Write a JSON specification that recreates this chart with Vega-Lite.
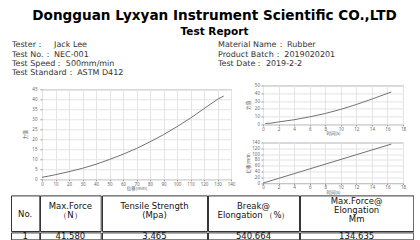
{
  "$schema": "https://vega.github.io/schema/vega-lite/v6.json",
  "background": "white",
  "padding": {"left": 10, "top": 8.4, "right": 0, "bottom": 0},
  "title": {
    "text": "Dongguan Lyxyan Instrument Scientific CO.,LTD",
    "subtitle": "Test Report",
    "anchor": "middle",
    "frame": "bounds",
    "dx": 2.35,
    "font": "DejaVu Sans",
    "fontSize": 13.6,
    "fontWeight": "bold",
    "color": "#000000",
    "subtitleFont": "DejaVu Sans",
    "subtitleFontSize": 10.5,
    "subtitleFontWeight": "bold",
    "subtitleColor": "#000000",
    "subtitlePadding": 4.6,
    "offset": 4.1
  },
  "datasets": {
    "info": [
      {"col": "A", "row": 1, "text": "Tester：\u00a0\u00a0\u00a0\u00a0Jack Lee"},
      {"col": "A", "row": 2, "text": "Test No.：\u00a0NEC-001"},
      {"col": "A", "row": 3, "text": "Test Speed：\u00a0500mm/min"},
      {"col": "A", "row": 4, "text": "Test Standard：\u00a0ASTM D412"},
      {"col": "B", "row": 1, "text": "Material Name：\u00a0Rubber"},
      {"col": "B", "row": 2, "text": "Product Batch：\u00a02019020201"},
      {"col": "B", "row": 3, "text": "Test Date：\u00a02019-2-2"}
    ],
    "curve": [
      {"disp": 0, "force": 1.0},
      {"disp": 5, "force": 1.6},
      {"disp": 10, "force": 2.3},
      {"disp": 20, "force": 3.8},
      {"disp": 30, "force": 5.5},
      {"disp": 40, "force": 7.5},
      {"disp": 50, "force": 9.9},
      {"disp": 60, "force": 12.5},
      {"disp": 70, "force": 15.4},
      {"disp": 80, "force": 18.7},
      {"disp": 90, "force": 22.3},
      {"disp": 100, "force": 26.3},
      {"disp": 110, "force": 30.6},
      {"disp": 120, "force": 35.3},
      {"disp": 130, "force": 40.0},
      {"disp": 134.6, "force": 41.6}
    ],
    "tf": [
      {"t": 0.3, "f": 1.2},
      {"t": 1, "f": 1.6},
      {"t": 2, "f": 3.2},
      {"t": 4, "f": 6.0},
      {"t": 6, "f": 9.7},
      {"t": 8, "f": 14.0},
      {"t": 10, "f": 19.3},
      {"t": 12, "f": 25.5},
      {"t": 14, "f": 32.5},
      {"t": 16.5, "f": 41.6}
    ],
    "td": [
      {"t": 0, "d": 0},
      {"t": 4, "d": 32.6},
      {"t": 8, "d": 65.3},
      {"t": 12, "d": 97.9},
      {"t": 16.5, "d": 134.6}
    ],
    "table": [
      {"col": "c1", "header": "No.", "value": "1"},
      {"col": "c2", "header": "Max.Force\n（N）", "value": "41.580"},
      {"col": "c3", "header": "Tensile Strength\n(Mpa)", "value": "3.465"},
      {"col": "c4", "header": "Break@\nElongation （%）", "value": "540.664"},
      {"col": "c5", "header": "Max.Force@\nElongation\nMm", "value": "134.635"}
    ]
  },
  "spacing": 0,
  "vconcat": [
    {
      "width": 206,
      "height": 39.3,
      "view": {"stroke": null},
      "data": {"name": "info"},
      "mark": {"type": "text", "align": "left", "baseline": "middle", "dx": 1, "font": "DejaVu Sans", "fontSize": 8, "color": "#333333"},
      "encoding": {
        "x": {"field": "col", "type": "nominal", "scale": {"type": "point", "padding": 0}, "axis": null},
        "y": {"field": "row", "type": "ordinal", "scale": {"type": "point", "padding": 0.605, "align": 0.354}, "axis": null},
        "text": {"field": "text"}
      }
    },
    {
      "hconcat": [
        {
          "width": 6.5,
          "height": 1,
          "view": {"stroke": null},
          "data": {"values": [{}]},
          "mark": {"type": "text", "text": ""}
        },
        {
          "width": 189,
          "height": 90,
          "data": {"name": "curve"},
          "mark": {"type": "line", "color": "#707070", "strokeWidth": 1},
          "encoding": {
            "x": {"field": "disp", "type": "quantitative", "scale": {"domain": [0, 140], "nice": false},
                  "axis": {"title": "位移(mm)", "labelFlush": false, "values": [0, 10, 20, 30, 40, 50, 60, 70, 80, 90, 100, 110, 120, 130, 140]}},
            "y": {"field": "force", "type": "quantitative", "scale": {"domain": [0, 45], "nice": false},
                  "axis": {"title": "力值", "values": [0, 5, 10, 15, 20, 25, 30, 35, 40, 45], "labelPadding": 3, "titlePadding": 4}}
          }
        },
        {
          "width": 0.35,
          "height": 1,
          "view": {"stroke": null},
          "data": {"values": [{}]},
          "mark": {"type": "text", "text": ""}
        },
        {
          "vconcat": [
            {
              "width": 140,
              "height": 39,
              "data": {"name": "tf"},
              "mark": {"type": "line", "color": "#707070", "strokeWidth": 1},
              "encoding": {
                "x": {"field": "t", "type": "quantitative", "scale": {"domain": [0, 18], "nice": false},
                      "axis": {"title": "时间(s)", "labelFlush": false, "values": [0, 2, 4, 6, 8, 10, 12, 14, 16, 18]}},
                "y": {"field": "f", "type": "quantitative", "scale": {"domain": [0, 50], "nice": false},
                      "axis": {"title": "力值", "values": [0, 10, 20, 30, 40, 50], "titlePadding": 3.6}}
              }
            },
            {
              "width": 140,
              "height": 40.6,
              "data": {"name": "td"},
              "mark": {"type": "line", "color": "#707070", "strokeWidth": 1},
              "encoding": {
                "x": {"field": "t", "type": "quantitative", "scale": {"domain": [0, 18], "nice": false},
                      "axis": {"title": "时间(s)", "labelFlush": false, "values": [0, 2, 4, 6, 8, 10, 12, 14, 16, 18]}},
                "y": {"field": "d", "type": "quantitative", "scale": {"domain": [0, 140], "nice": false},
                      "axis": {"title": "位移(mm)", "values": [0, 20, 40, 60, 80, 100, 120, 140], "titlePadding": 1}}
              }
            }
          ],
          "spacing": 2.1
        }
      ],
      "spacing": 4,
      "center": true
    },
    {
      "vconcat": [
        {
          "hconcat": [
            {"width": 28.3, "height": 35.6, "view": {"stroke": "#333333"}, "data": {"name": "table"},
             "transform": [{"filter": "datum.col === 'c1'"}],
             "mark": {"type": "text", "font": "DejaVu Sans", "fontSize": 8.5, "color": "#111111", "lineBreak": "\n", "lineHeight": 9.3, "dy": 0.5},
             "encoding": {"text": {"field": "header"}}},
            {"width": 60.7, "height": 35.6, "view": {"stroke": "#333333"}, "data": {"name": "table"},
             "transform": [{"filter": "datum.col === 'c2'"}],
             "mark": {"type": "text", "font": "DejaVu Sans", "fontSize": 8.5, "color": "#111111", "lineBreak": "\n", "lineHeight": 9.3, "dy": -7.3},
             "encoding": {"text": {"field": "header"}}},
            {"width": 105, "height": 35.6, "view": {"stroke": "#333333"}, "data": {"name": "table"},
             "transform": [{"filter": "datum.col === 'c3'"}],
             "mark": {"type": "text", "font": "DejaVu Sans", "fontSize": 8.5, "color": "#111111", "lineBreak": "\n", "lineHeight": 9.3, "dy": -7.3},
             "encoding": {"text": {"field": "header"}}},
            {"width": 91, "height": 35.6, "view": {"stroke": "#333333"}, "data": {"name": "table"},
             "transform": [{"filter": "datum.col === 'c4'"}],
             "mark": {"type": "text", "font": "DejaVu Sans", "fontSize": 8.5, "color": "#111111", "lineBreak": "\n", "lineHeight": 9.3, "dy": -7.3},
             "encoding": {"text": {"field": "header"}}},
            {"width": 113.3, "height": 35.6, "view": {"stroke": "#333333"}, "data": {"name": "table"},
             "transform": [{"filter": "datum.col === 'c5'"}],
             "mark": {"type": "text", "font": "DejaVu Sans", "fontSize": 8.5, "color": "#111111", "lineBreak": "\n", "lineHeight": 9.3, "dy": -12.3},
             "encoding": {"text": {"field": "header"}}}
          ],
          "spacing": -2
        },
        {
          "hconcat": [
            {"width": 28.3, "height": 7, "view": {"stroke": "#333333"}, "data": {"name": "table"},
             "transform": [{"filter": "datum.col === 'c1'"}],
             "mark": {"type": "text", "font": "DejaVu Sans", "fontSize": 8.5, "color": "#111111"},
             "encoding": {"text": {"field": "value"}}},
            {"width": 60.7, "height": 7, "view": {"stroke": "#333333"}, "data": {"name": "table"},
             "transform": [{"filter": "datum.col === 'c2'"}],
             "mark": {"type": "text", "font": "DejaVu Sans", "fontSize": 8.5, "color": "#111111"},
             "encoding": {"text": {"field": "value"}}},
            {"width": 105, "height": 7, "view": {"stroke": "#333333"}, "data": {"name": "table"},
             "transform": [{"filter": "datum.col === 'c3'"}],
             "mark": {"type": "text", "font": "DejaVu Sans", "fontSize": 8.5, "color": "#111111"},
             "encoding": {"text": {"field": "value"}}},
            {"width": 91, "height": 7, "view": {"stroke": "#333333"}, "data": {"name": "table"},
             "transform": [{"filter": "datum.col === 'c4'"}],
             "mark": {"type": "text", "font": "DejaVu Sans", "fontSize": 8.5, "color": "#111111"},
             "encoding": {"text": {"field": "value"}}},
            {"width": 113.3, "height": 7, "view": {"stroke": "#333333"}, "data": {"name": "table"},
             "transform": [{"filter": "datum.col === 'c5'"}],
             "mark": {"type": "text", "font": "DejaVu Sans", "fontSize": 8.5, "color": "#111111"},
             "encoding": {"text": {"field": "value"}}}
          ],
          "spacing": -2
        }
      ],
      "spacing": -2
    }
  ],
  "config": {
    "view": {"stroke": "#a0a0a0"},
    "axis": {
      "labelFont": "Noto Sans",
      "labelFontSize": 4.5,
      "labelColor": "#666666",
      "titleFont": "Noto Sans CJK SC",
      "titleFontSize": 4.5,
      "titleFontWeight": "normal",
      "titleColor": "#555555",
      "gridColor": "#e4e4e4",
      "tickColor": "#999999",
      "domain": false
    },
    "axisX": {"tickSize": 1.5, "labelPadding": 0.25, "titlePadding": 0},
    "axisY": {"tickSize": 2, "labelPadding": 1.5}
  }
}
